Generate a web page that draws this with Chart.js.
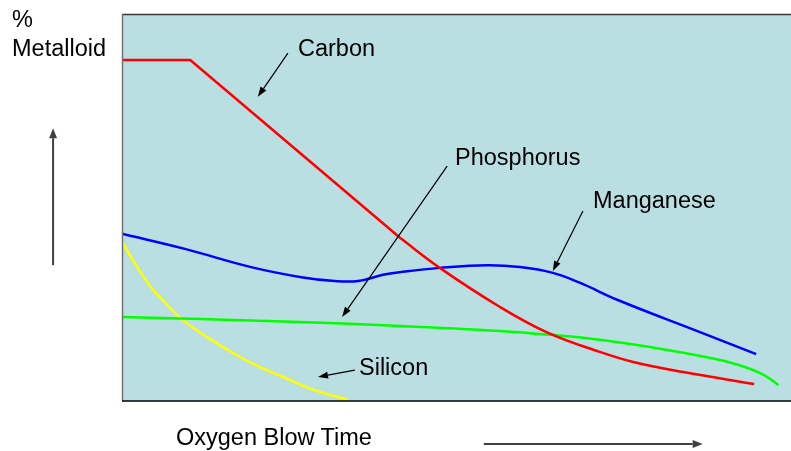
<!DOCTYPE html>
<html>
<head>
<meta charset="utf-8">
<script src="https://cdn.jsdelivr.net/npm/chart.js@4.4.1/dist/chart.umd.min.js"></script>
<style>
  body { margin: 0; background: #fff; }
  #wrap { position: relative; width: 791px; height: 451px; }
  .lbl {
    position: absolute;
    font-family: "Liberation Sans", Arial, sans-serif;
    font-size: 23.5px;
    line-height: 23px;
    color: #000;
    white-space: nowrap;
  }
</style>
</head>
<body>
<div id="wrap">
  <canvas id="metalChart" width="791" height="451"></canvas>
  <div class="lbl" style="left:12px;top:8px">%</div>
  <div class="lbl" style="left:12px;top:37px">Metalloid</div>
  <div class="lbl" style="left:298px;top:37px">Carbon</div>
  <div class="lbl" style="left:455px;top:146px">Phosphorus</div>
  <div class="lbl" style="left:593px;top:189px">Manganese</div>
  <div class="lbl" style="left:359px;top:356px">Silicon</div>
  <div class="lbl" style="left:176px;top:426px">Oxygen Blow Time</div>
</div>
<script>
// blow time (0-100 % of blow) and metalloid level (relative, 0-100)
const carbonX = [0, 10.2, 25.9, 41.6, 47.5, 56.5, 63.7, 71.4, 76.4, 83.9, 94.5];
const carbonY = [88.1, 88.1, 65.1, 42.1, 34.4, 24.3, 17.6, 12.7, 10.1, 7.5, 4.4];
const carbonStraight = 4; // first points are a flat run then a straight drop

const manganeseX = [0, 9.4, 19.3, 26.8, 31.8, 35.3, 39.0, 41.6, 47.5, 54.6, 59.5, 64.4, 68.5, 74.1, 86.4, 94.8];
const manganeseY = [43.2, 39.3, 34.6, 32.0, 31.0, 31.0, 32.6, 33.3, 34.4, 35.1, 34.6, 33.1, 30.5, 26.1, 17.8, 12.1];

const phosphorusX = [0, 11.7, 26.6, 41.6, 56.5, 64.0, 71.4, 81.5, 89.4, 93.1, 95.4, 96.9, 98.1];
const phosphorusY = [21.7, 21.2, 20.4, 19.4, 18.1, 17.1, 15.8, 13.2, 10.6, 8.8, 7.2, 5.7, 4.1];

const siliconX = [0, 2.1, 4.2, 6.6, 9.1, 12.9, 16.6, 20.3, 24.1, 28.8, 33.8];
const siliconY = [41.1, 35.1, 29.7, 25.1, 20.9, 16.3, 12.4, 9.0, 6.2, 2.8, 0.3];

// pointer arrows, [fromX, fromY, toX, toY] in chart units
const labelArrows = [
  [24.8, 89.9, 20.3, 78.6],   // Carbon
  [48.6, 60.7, 32.9, 21.7],   // Phosphorus
  [68.9, 49.1, 64.4, 33.6],   // Manganese
  [34.8, 8.0, 29.3, 6.2]      // Silicon
];
const axisArrows = [
  [-10.3, 35.1, -10.3, 70.5], // up (% metalloid)
  [54.1, -11.1, 86.8, -11.1]  // right (blow time)
];

const zip = (xs, ys) => xs.map((x, i) => ({ x: x, y: ys[i] }));

function drawArrow(ctx, x1, y1, x2, y2, color, width, headLen, headW) {
  const ang = Math.atan2(y2 - y1, x2 - x1);
  const bx = x2 - headLen * Math.cos(ang);
  const by = y2 - headLen * Math.sin(ang);
  ctx.strokeStyle = color;
  ctx.fillStyle = color;
  ctx.lineWidth = width;
  ctx.beginPath();
  ctx.moveTo(x1, y1);
  ctx.lineTo(bx, by);
  ctx.stroke();
  ctx.beginPath();
  ctx.moveTo(x2, y2);
  ctx.lineTo(bx + headW / 2 * Math.sin(ang), by - headW / 2 * Math.cos(ang));
  ctx.lineTo(bx - headW / 2 * Math.sin(ang), by + headW / 2 * Math.cos(ang));
  ctx.closePath();
  ctx.fill();
}

const plotFrame = {
  id: "plotFrame",
  beforeDraw(chart) {
    const { ctx, chartArea: a } = chart;
    ctx.save();
    ctx.fillStyle = "#badfe2";
    ctx.fillRect(a.left, a.top, a.right - a.left, a.bottom - a.top);
    ctx.restore();
  },
  afterDraw(chart) {
    const { ctx, chartArea: a, scales } = chart;
    const px = (v) => scales.x.getPixelForValue(v);
    const py = (v) => scales.y.getPixelForValue(v);
    ctx.save();
    ctx.lineWidth = 1.5;
    ctx.strokeStyle = "#3a3a3a";
    ctx.beginPath(); ctx.moveTo(a.left, a.top + 0.5); ctx.lineTo(a.right, a.top + 0.5); ctx.stroke();
    ctx.strokeStyle = "#707070";
    ctx.beginPath(); ctx.moveTo(a.left + 0.5, a.top); ctx.lineTo(a.left + 0.5, a.bottom); ctx.stroke();
    ctx.strokeStyle = "#000";
    ctx.beginPath(); ctx.moveTo(a.left, a.bottom); ctx.lineTo(a.right, a.bottom); ctx.stroke();

    labelArrows.forEach(([x1, y1, x2, y2]) =>
      drawArrow(ctx, px(x1), py(y1), px(x2), py(y2), "#000", 1.2, 10, 7));
    axisArrows.forEach(([x1, y1, x2, y2]) =>
      drawArrow(ctx, px(x1), py(y1), px(x2), py(y2), "#404040", 2, 10, 8));
    ctx.restore();
  }
};

const lineStyle = { borderWidth: 2.5, pointRadius: 0, fill: false, tension: 0.4 };

new Chart(document.getElementById("metalChart"), {
  type: "line",
  data: {
    datasets: [
      // carbon: flat + straight part, then the flattening curve
      { ...lineStyle, label: "Carbon", data: zip(carbonX, carbonY).slice(0, carbonStraight), borderColor: "#ff0000", tension: 0 },
      { ...lineStyle, label: "Carbon", data: zip(carbonX, carbonY).slice(carbonStraight - 1), borderColor: "#ff0000" },
      { ...lineStyle, label: "Manganese", data: zip(manganeseX, manganeseY), borderColor: "#0000ff" },
      { ...lineStyle, label: "Phosphorus", data: zip(phosphorusX, phosphorusY), borderColor: "#00ff00" },
      { ...lineStyle, label: "Silicon", data: zip(siliconX, siliconY), borderColor: "#ffff00" }
    ]
  },
  options: {
    responsive: false,
    animation: false,
    layout: { padding: { left: 122, top: 14, right: 0, bottom: 50 } },
    plugins: { legend: { display: false }, tooltip: { enabled: false } },
    scales: {
      x: { type: "linear", min: 0, max: 100, display: false },
      y: { min: 0, max: 100, display: false }
    }
  },
  plugins: [plotFrame]
});
</script>
</body>
</html>
